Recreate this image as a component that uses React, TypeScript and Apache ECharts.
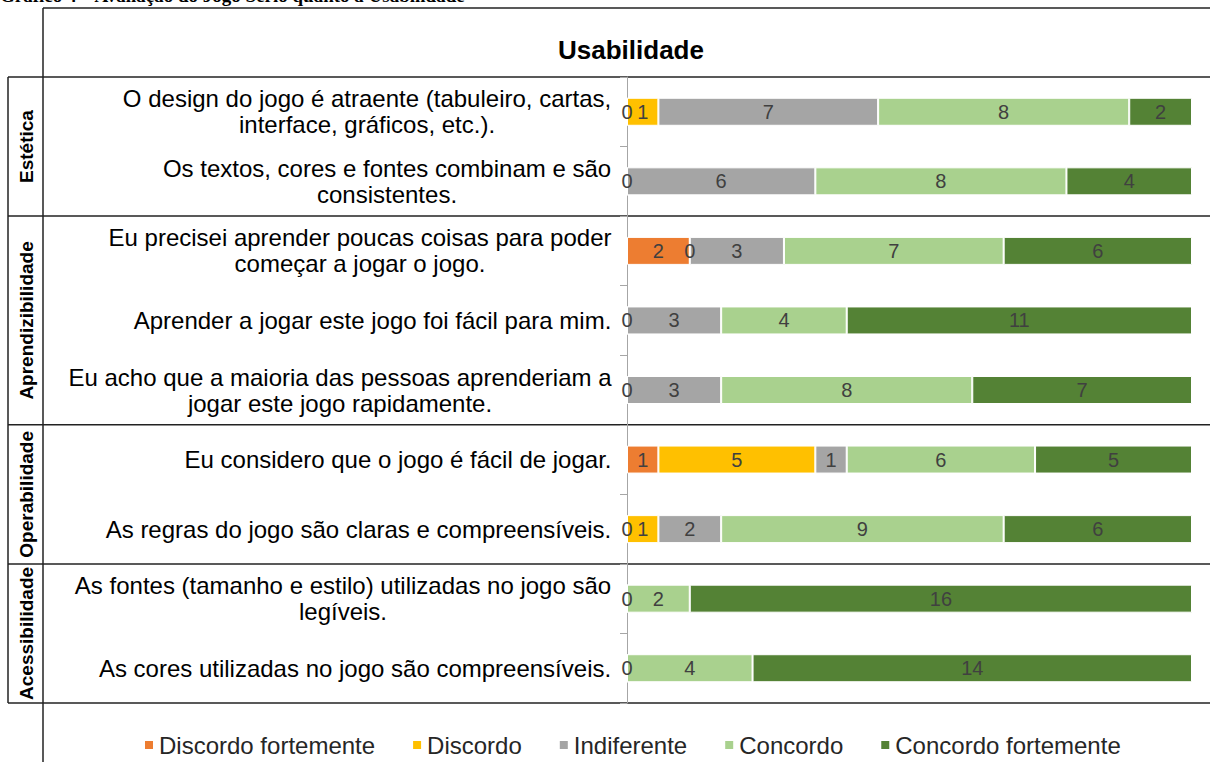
import React, { useEffect, useRef } from "react";
import * as echarts from "echarts";

const FONT = "'Liberation Sans', Arial, sans-serif";
const NARROW = "'Liberation Sans Narrow', 'Arial Narrow', 'Liberation Sans', sans-serif";

const pageCaption = "Gráfico 4 – Avaliação do Jogo Sério quanto à Usabilidade";
const chartTitle = "Usabilidade";

const categories = [
  "O design do jogo é atraente (tabuleiro, cartas,\ninterface, gráficos, etc.).",
  "Os textos, cores e fontes combinam e são\nconsistentes.",
  "Eu precisei aprender poucas coisas para poder\ncomeçar a jogar o jogo.",
  "Aprender a jogar este jogo foi fácil para mim.",
  "Eu acho que a maioria das pessoas aprenderiam a\njogar este jogo rapidamente.",
  "Eu considero que o jogo é fácil de jogar.",
  "As regras do jogo são claras e compreensíveis.",
  "As fontes (tamanho e estilo) utilizadas no jogo são\nlegíveis.",
  "As cores utilizadas no jogo são compreensíveis.",
];

const groups = ["Estética", "Aprendizibilidade", "Operabilidade", "Acessibilidade"];
const groupSizes = [2, 3, 2, 2];

const seriesNames = ["Discordo fortemente", "Discordo", "Indiferente", "Concordo", "Concordo fortemente"];
const seriesColors = ["#ED7D31", "#FFC000", "#A5A5A5", "#A9D18E", "#548235"];

const discordoFortemente = [0, 0, 2, 0, 0, 1, 0, 0, 0];
const discordo = [1, 0, 0, 0, 0, 5, 1, 0, 0];
const indiferente = [7, 6, 3, 3, 3, 1, 2, 0, 0];
const concordo = [8, 8, 7, 4, 8, 6, 9, 2, 4];
const concordoFortemente = [2, 4, 6, 11, 7, 5, 6, 16, 14];

const seriesValues = [discordoFortemente, discordo, indiferente, concordo, concordoFortemente];
const xMax = 18;

const W = 1210;
const H = 762;
const GRID_LEFT = 627;
const GRID_RIGHT = 18;
const GRID_TOP = 77;
const GRID_BOTTOM = 59;

function measure(text: string, font: string): number {
  const ctx = document.createElement("canvas").getContext("2d");
  if (!ctx) return text.length * 11;
  ctx.font = font;
  return ctx.measureText(text).width;
}

export default function App() {
  const ref = useRef<HTMLDivElement>(null);

  useEffect(() => {
    if (!ref.current) return;
    const chart = echarts.init(ref.current, undefined, { renderer: "svg" });

    const labelFont = `24px ${FONT}`;
    const rich: Record<string, any> = {};
    categories.forEach((c, i) => {
      const w = Math.max(...c.split("\n").map((l) => measure(l, labelFont)));
      rich["r" + i] = {
        width: Math.ceil(w) + 1,
        align: "center",
        fontSize: 24,
        lineHeight: 26,
        color: "#000",
        fontFamily: FONT,
      };
    });

    const band = (H - GRID_TOP - GRID_BOTTOM) / categories.length;
    const lineStyle = { stroke: "#222", lineWidth: 1.5 };
    const graphics: any[] = [];
    // frame
    graphics.push({ type: "line", shape: { x1: 43, y1: 8, x2: 43, y2: H }, style: lineStyle, silent: true });
    graphics.push({ type: "line", shape: { x1: 43, y1: 8, x2: W, y2: 8 }, style: lineStyle, silent: true });
    graphics.push({ type: "line", shape: { x1: 8, y1: GRID_TOP, x2: W, y2: GRID_TOP }, style: lineStyle, silent: true });
    graphics.push({ type: "line", shape: { x1: 8, y1: GRID_TOP, x2: 8, y2: H - GRID_BOTTOM }, style: lineStyle, silent: true });
    let acc = 0;
    groups.forEach((g, gi) => {
      const start = acc;
      acc += groupSizes[gi];
      const yEnd = GRID_TOP + band * acc;
      graphics.push({ type: "line", shape: { x1: 8, y1: yEnd, x2: W, y2: yEnd }, style: lineStyle, silent: true });
      const yc = GRID_TOP + band * ((start + acc) / 2);
      graphics.push({
        type: "text",
        x: 26,
        y: yc,
        rotation: Math.PI / 2,
        style: {
          text: g,
          fill: "#000",
          font: `bold 19px ${FONT}`,
          textAlign: "center",
          textVerticalAlign: "middle",
        },
        silent: true,
      });
    });
    graphics.push({
      type: "text",
      x: 0,
      y: 5,
      style: {
        text: pageCaption,
        fill: "#000",
        font: `bold 19px 'Liberation Serif', 'DejaVu Serif', serif`,
        textAlign: "left",
        textVerticalAlign: "bottom",
      },
      silent: true,
    });

    const series = seriesNames.map((name, si) => ({
      name,
      type: "bar",
      stack: "total",
      barWidth: 28,
      itemStyle: { color: seriesColors[si], borderColor: "#fff", borderWidth: 1 },
      label: {
        show: true,
        position: "inside",
        color: "#404040",
        fontSize: 20,
        fontFamily: NARROW,
        formatter: "{c}",
      },
      data: seriesValues[si].map((v, ri) => {
        const show = v > 0 || si === 0 || seriesValues[si - 1][ri] > 0;
        return { value: v, label: { show } };
      }),
    }));

    chart.setOption({
      animation: false,
      backgroundColor: "#fff",
      title: {
        text: chartTitle,
        left: 626,
        top: 32,
        textAlign: "center",
        textStyle: { fontSize: 26, fontWeight: "bold", color: "#000", fontFamily: FONT },
      },
      legend: {
        left: 138,
        top: 728,
        itemWidth: 10,
        itemHeight: 10,
        itemGap: 36,
        icon: "rect",
        textStyle: { fontSize: 24, color: "#262626", fontFamily: FONT },
        data: seriesNames,
      },
      grid: { left: GRID_LEFT, right: GRID_RIGHT, top: GRID_TOP, bottom: GRID_BOTTOM, containLabel: false },
      xAxis: {
        type: "value",
        min: 0,
        max: xMax,
        show: false,
      },
      yAxis: {
        type: "category",
        inverse: true,
        data: categories,
        axisLine: { show: true, lineStyle: { color: "#A6A6A6", width: 1 } },
        axisTick: { show: true, length: 7, lineStyle: { color: "#A6A6A6" } },
        axisLabel: {
          margin: 15,
          interval: 0,
          formatter: (value: string, idx: number) =>
            categories[idx]
              .split("\n")
              .map((l) => `{r${idx}|${l}}`)
              .join("\n"),
          rich,
        },
      },
      graphic: graphics,
      series,
    });

    return () => chart.dispose();
  }, []);

  return (
    <div
      ref={ref}
      style={{ position: "absolute", left: 0, top: 0, width: W, height: H, background: "#fff" }}
    />
  );
}
